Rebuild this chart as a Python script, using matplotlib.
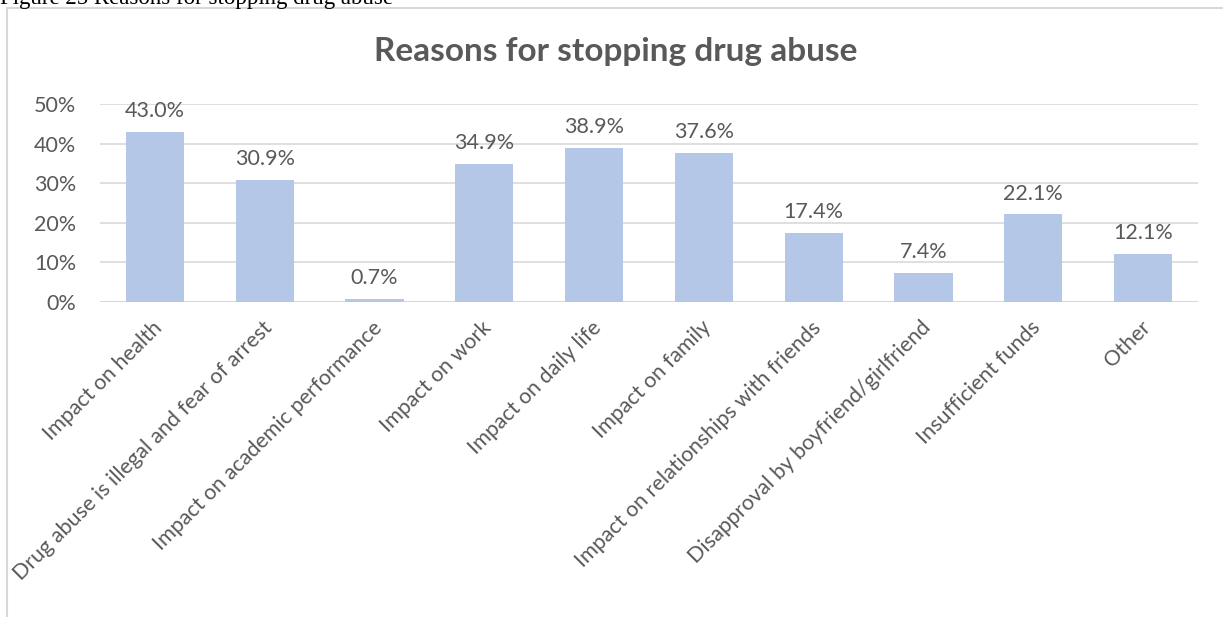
import matplotlib.pyplot as plt
import matplotlib.transforms as mtransforms
from matplotlib.patches import Rectangle
from matplotlib.ticker import PercentFormatter

categories = ['Impact on health', 'Drug abuse is illegal and fear of arrest',
              'Impact on academic performance', 'Impact on work',
              'Impact on daily life', 'Impact on family',
              'Impact on relationships with friends',
              'Disapproval by boyfriend/girlfriend', 'Insufficient funds', 'Other']
values = [43.0, 30.9, 0.7, 34.9, 38.9, 37.6, 17.4, 7.4, 22.1, 12.1]

W, H = 1223, 617
fig = plt.figure(figsize=(W / 100, H / 100), dpi=100)
plt.rcParams['font.family'] = ['Lato', 'DejaVu Sans']
grey = '#595959'

# chart frame (left and top edges visible)
fig.add_artist(Rectangle((7 / W, -0.1), 1.2, 1 - 8 / H + 0.1, transform=fig.transFigure,
                         fill=False, edgecolor='#D9D9D9', lw=1.5))
fig.text(0, 1 - 4 / H, 'Figure 25 Reasons for stopping drug abuse', family='Liberation Serif',
         fontsize=16.5, va='baseline', ha='left', color='black')

ax = fig.add_axes([100 / W, 1 - 302 / H, 1098 / W, 198 / H])
x = range(len(categories))
ax.bar(x, values, width=0.53, color='#B4C7E7', zorder=3)
for xi, v in zip(x, values):
    ax.annotate(f'{v:.1f}%', (xi, v), xytext=(0, 15), textcoords='offset points',
                ha='center', va='center', fontsize=15.5, color=grey)

ax.set_ylim(0, 50)
ax.set_xlim(-0.5, len(categories) - 0.5)
ax.set_yticks(range(0, 51, 10))
ax.yaxis.set_major_formatter(PercentFormatter(decimals=0))
ax.grid(axis='y', color='#D9D9D9', lw=1.2, zorder=0)
for s in ax.spines.values():
    s.set_visible(False)
ax.axhline(0, color='#D9D9D9', lw=1.5, zorder=2)
ax.tick_params(axis='y', length=0, labelsize=15.5, colors=grey, pad=17)
ax.tick_params(axis='x', length=0, labelsize=15.5, colors=grey, pad=11)
ax.set_xticks(list(x))
ax.set_xticklabels(categories, rotation=45, ha='right', rotation_mode='anchor')
shift = mtransforms.ScaledTranslation(-3 / 100, 0, fig.dpi_scale_trans)
for lab in ax.get_xticklabels():
    lab.set_transform(lab.get_transform() + shift)

fig.text(616 / W, 1 - 52 / H, 'Reasons for stopping drug abuse', ha='center', va='center',
         fontsize=24, fontweight='bold', color=grey)

fig.savefig('out.png', dpi=100)
